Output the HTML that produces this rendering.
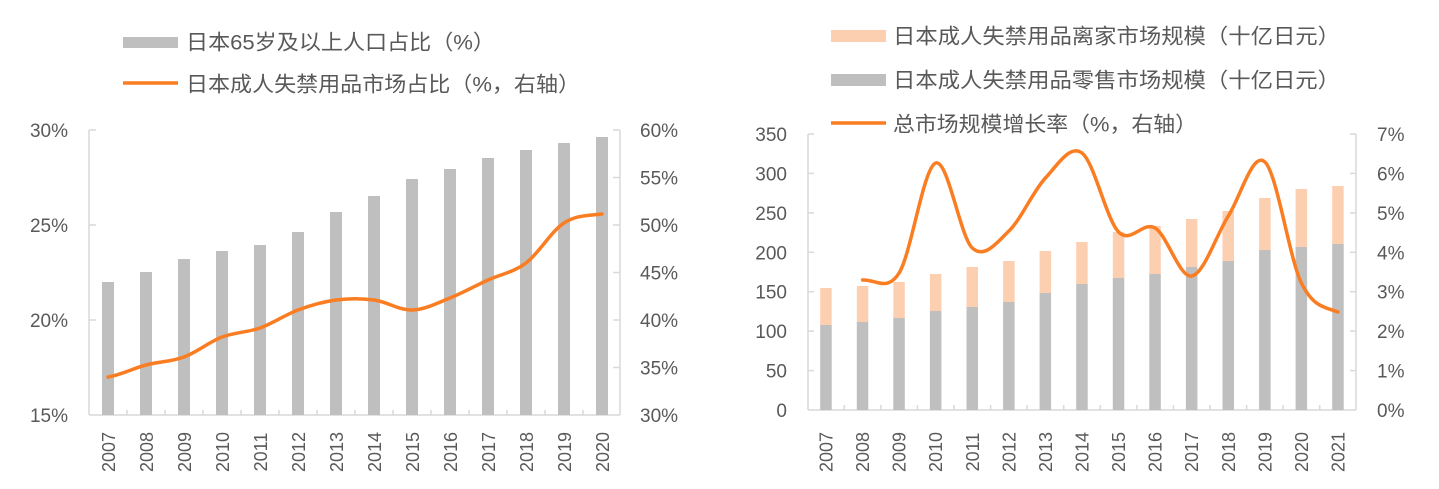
<!DOCTYPE html>
<html><head><meta charset="utf-8"><style>
html,body{margin:0;padding:0;background:#fff;}
svg{display:block;}
text{font-family:"Liberation Sans","Noto Sans CJK SC",sans-serif;fill:#595959;}
.t{font-size:19px;}
.yr{font-size:18px;}
.lg{font-size:21px;}
</style></head><body>
<svg width="1439" height="489" viewBox="0 0 1439 489" xmlns="http://www.w3.org/2000/svg">
<!-- LEFT CHART -->
<!-- legend -->
<rect x="123" y="37" width="55" height="11" fill="#bfbfbf"/>
<text class="lg" x="186" y="49.5" textLength="309" lengthAdjust="spacingAndGlyphs">日本65岁及以上人口占比（%）</text>
<line x1="123" y1="83" x2="178" y2="83" stroke="#fa7d22" stroke-width="3.5"/>
<text class="lg" x="186" y="91.5" textLength="394" lengthAdjust="spacingAndGlyphs">日本成人失禁用品市场占比（%，右轴）</text>

<!-- axes -->
<g stroke="#d9d9d9" stroke-width="1.5" fill="none">
<line x1="89" y1="130" x2="89" y2="415"/>
<line x1="620" y1="130" x2="620" y2="415"/>
<line x1="89" y1="415" x2="620" y2="415"/>
<line x1="89" y1="130" x2="96" y2="130"/><line x1="89" y1="225" x2="96" y2="225"/><line x1="89" y1="320" x2="96" y2="320"/>
<line x1="613" y1="130" x2="620" y2="130"/><line x1="613" y1="177.5" x2="620" y2="177.5"/><line x1="613" y1="225" x2="620" y2="225"/><line x1="613" y1="272.5" x2="620" y2="272.5"/><line x1="613" y1="320" x2="620" y2="320"/><line x1="613" y1="367.5" x2="620" y2="367.5"/>
<line x1="127" y1="410" x2="127" y2="415"/><line x1="165" y1="410" x2="165" y2="415"/><line x1="203" y1="410" x2="203" y2="415"/><line x1="241" y1="410" x2="241" y2="415"/><line x1="279" y1="410" x2="279" y2="415"/><line x1="317" y1="410" x2="317" y2="415"/><line x1="355" y1="410" x2="355" y2="415"/><line x1="393" y1="410" x2="393" y2="415"/><line x1="431" y1="410" x2="431" y2="415"/><line x1="469" y1="410" x2="469" y2="415"/><line x1="507" y1="410" x2="507" y2="415"/><line x1="545" y1="410" x2="545" y2="415"/><line x1="583" y1="410" x2="583" y2="415"/>
</g>
<!-- y labels -->
<g class="t" text-anchor="end">
<text x="68" y="137">30%</text><text x="68" y="232">25%</text><text x="68" y="327">20%</text><text x="68" y="422">15%</text>
</g>
<g class="t">
<text x="640" y="137">60%</text><text x="640" y="184.5">55%</text><text x="640" y="232">50%</text><text x="640" y="279.5">45%</text><text x="640" y="327">40%</text><text x="640" y="374.5">35%</text><text x="640" y="422">30%</text>
</g>
<!-- bars -->
<g fill="#bfbfbf">
<rect x="102" y="282" width="12" height="133"/>
<rect x="140" y="272" width="12" height="143"/>
<rect x="178" y="259" width="12" height="156"/>
<rect x="216" y="251" width="12" height="164"/>
<rect x="254" y="245" width="12" height="170"/>
<rect x="292" y="232" width="12" height="183"/>
<rect x="330" y="212" width="12" height="203"/>
<rect x="368" y="196" width="12" height="219"/>
<rect x="406" y="179" width="12" height="236"/>
<rect x="444" y="169" width="12" height="246"/>
<rect x="482" y="158" width="12" height="257"/>
<rect x="520" y="150" width="12" height="265"/>
<rect x="558" y="143" width="12" height="272"/>
<rect x="596" y="137" width="12" height="278"/>
</g>
<!-- line -->
<path d="M108,377 C120.7,375 133.3,368.3 146,365 C158.7,361.7 171.3,361.7 184,357 C196.7,352.3 209.3,341.8 222,337 C234.7,332.2 247.3,332.5 260,328 C272.7,323.5 285.3,314.7 298,310 C310.7,305.3 323.3,301.7 336,300 C348.7,298.3 361.3,298.3 374,300 C386.7,301.7 399.3,310.3 412,310 C424.7,309.7 437.3,303 450,298 C462.7,293 475.3,285.8 488,280 C500.7,274.2 513.3,272.5 526,263 C538.7,253.5 551.3,231.2 564,223 C576.7,214.8 589.3,215.5 602,214" fill="none" stroke="#fa7d22" stroke-width="3.5" stroke-linecap="round" stroke-linejoin="round"/>
<!-- year labels -->
<g class="yr" text-anchor="middle">
<text transform="translate(115,452) rotate(-90)">2007</text>
<text transform="translate(153,452) rotate(-90)">2008</text>
<text transform="translate(191,452) rotate(-90)">2009</text>
<text transform="translate(229,452) rotate(-90)">2010</text>
<text transform="translate(267,452) rotate(-90)">2011</text>
<text transform="translate(305,452) rotate(-90)">2012</text>
<text transform="translate(343,452) rotate(-90)">2013</text>
<text transform="translate(381,452) rotate(-90)">2014</text>
<text transform="translate(419,452) rotate(-90)">2015</text>
<text transform="translate(457,452) rotate(-90)">2016</text>
<text transform="translate(495,452) rotate(-90)">2017</text>
<text transform="translate(533,452) rotate(-90)">2018</text>
<text transform="translate(571,452) rotate(-90)">2019</text>
<text transform="translate(609,452) rotate(-90)">2020</text>
</g>

<!-- RIGHT CHART -->
<rect x="831" y="30" width="55" height="12" fill="#fdcfb1"/>
<text class="lg" x="893" y="43.5" textLength="447" lengthAdjust="spacingAndGlyphs">日本成人失禁用品离家市场规模（十亿日元）</text>
<rect x="831" y="74" width="55" height="12" fill="#bfbfbf"/>
<text class="lg" x="893" y="87.5" textLength="447" lengthAdjust="spacingAndGlyphs">日本成人失禁用品零售市场规模（十亿日元）</text>
<line x1="831" y1="123" x2="886" y2="123" stroke="#fa7d22" stroke-width="3.5"/>
<text class="lg" x="893" y="131.5" textLength="304" lengthAdjust="spacingAndGlyphs">总市场规模增长率（%，右轴）</text>

<g stroke="#d9d9d9" stroke-width="1.5" fill="none">
<line x1="808" y1="134" x2="808" y2="410"/>
<line x1="1356" y1="134" x2="1356" y2="410"/>
<line x1="808" y1="410" x2="1356" y2="410"/>
<line x1="808" y1="134" x2="814" y2="134"/><line x1="808" y1="173.4" x2="814" y2="173.4"/><line x1="808" y1="212.9" x2="814" y2="212.9"/><line x1="808" y1="252.3" x2="814" y2="252.3"/><line x1="808" y1="291.7" x2="814" y2="291.7"/><line x1="808" y1="331.1" x2="814" y2="331.1"/><line x1="808" y1="370.6" x2="814" y2="370.6"/>
<line x1="1350" y1="134" x2="1356" y2="134"/><line x1="1350" y1="173.4" x2="1356" y2="173.4"/><line x1="1350" y1="212.9" x2="1356" y2="212.9"/><line x1="1350" y1="252.3" x2="1356" y2="252.3"/><line x1="1350" y1="291.7" x2="1356" y2="291.7"/><line x1="1350" y1="331.1" x2="1356" y2="331.1"/><line x1="1350" y1="370.6" x2="1356" y2="370.6"/>
<line x1="844.3" y1="405" x2="844.3" y2="410"/><line x1="880.9" y1="405" x2="880.9" y2="410"/><line x1="917.4" y1="405" x2="917.4" y2="410"/><line x1="954" y1="405" x2="954" y2="410"/><line x1="990.6" y1="405" x2="990.6" y2="410"/><line x1="1027.1" y1="405" x2="1027.1" y2="410"/><line x1="1063.7" y1="405" x2="1063.7" y2="410"/><line x1="1100.3" y1="405" x2="1100.3" y2="410"/><line x1="1136.9" y1="405" x2="1136.9" y2="410"/><line x1="1173.4" y1="405" x2="1173.4" y2="410"/><line x1="1210" y1="405" x2="1210" y2="410"/><line x1="1246.6" y1="405" x2="1246.6" y2="410"/><line x1="1283.1" y1="405" x2="1283.1" y2="410"/><line x1="1319.7" y1="405" x2="1319.7" y2="410"/>
</g>
<g class="t" text-anchor="end">
<text x="787" y="141">350</text><text x="787" y="180.4">300</text><text x="787" y="219.9">250</text><text x="787" y="259.3">200</text><text x="787" y="298.7">150</text><text x="787" y="338.1">100</text><text x="787" y="377.6">50</text><text x="787" y="417">0</text>
</g>
<g class="t">
<text x="1377" y="141">7%</text><text x="1377" y="180.4">6%</text><text x="1377" y="219.9">5%</text><text x="1377" y="259.3">4%</text><text x="1377" y="298.7">3%</text><text x="1377" y="338.1">2%</text><text x="1377" y="377.6">1%</text><text x="1377" y="417">0%</text>
</g>
<!-- peach -->
<g fill="#fdcfb1">
<rect x="820.2" y="288" width="11.5" height="37"/>
<rect x="856.8" y="286" width="11.5" height="36"/>
<rect x="893.3" y="282" width="11.5" height="36"/>
<rect x="929.9" y="274" width="11.5" height="37"/>
<rect x="966.5" y="267" width="11.5" height="40"/>
<rect x="1003.1" y="261" width="11.5" height="41"/>
<rect x="1039.6" y="251" width="11.5" height="42"/>
<rect x="1076.2" y="242" width="11.5" height="42"/>
<rect x="1112.8" y="232" width="11.5" height="46"/>
<rect x="1149.3" y="226" width="11.5" height="48"/>
<rect x="1185.9" y="219" width="11.5" height="48"/>
<rect x="1222.5" y="211" width="11.5" height="50"/>
<rect x="1259.1" y="198" width="11.5" height="52"/>
<rect x="1295.6" y="189" width="11.5" height="58"/>
<rect x="1332.2" y="186" width="11.5" height="58"/>
</g>
<g fill="#bfbfbf">
<rect x="820.2" y="325" width="11.5" height="85"/>
<rect x="856.8" y="322" width="11.5" height="88"/>
<rect x="893.3" y="318" width="11.5" height="92"/>
<rect x="929.9" y="311" width="11.5" height="99"/>
<rect x="966.5" y="307" width="11.5" height="103"/>
<rect x="1003.1" y="302" width="11.5" height="108"/>
<rect x="1039.6" y="293" width="11.5" height="117"/>
<rect x="1076.2" y="284" width="11.5" height="126"/>
<rect x="1112.8" y="278" width="11.5" height="132"/>
<rect x="1149.3" y="274" width="11.5" height="136"/>
<rect x="1185.9" y="267" width="11.5" height="143"/>
<rect x="1222.5" y="261" width="11.5" height="149"/>
<rect x="1259.1" y="250" width="11.5" height="160"/>
<rect x="1295.6" y="247" width="11.5" height="163"/>
<rect x="1332.2" y="244" width="11.5" height="166"/>
</g>
<path d="M862.6,280 C874.8,278.8 886.9,292.5 899.1,273 C911.3,253.5 923.5,167.2 935.7,163 C947.9,158.8 960.1,236.7 972.3,248 C984.5,259.3 996.7,242.7 1008.9,231 C1021.1,219.3 1033.2,191 1045.4,178 C1057.6,165 1069.8,144 1082,153 C1094.2,162 1106.4,219.5 1118.6,232 C1130.8,244.5 1142.9,220.7 1155.1,228 C1167.3,235.3 1179.5,278 1191.7,276 C1203.9,274 1216.1,235.3 1228.3,216 C1240.5,197 1252.7,150.8 1264.9,162 C1277.1,173.2 1289.2,258 1301.4,283 C1313.6,308 1325.8,307.2 1338,312" fill="none" stroke="#fa7d22" stroke-width="3.5" stroke-linecap="round" stroke-linejoin="round"/>
<g class="yr" text-anchor="middle">
<text transform="translate(832.5,452) rotate(-90)">2007</text>
<text transform="translate(869.1,452) rotate(-90)">2008</text>
<text transform="translate(905.6,452) rotate(-90)">2009</text>
<text transform="translate(942.2,452) rotate(-90)">2010</text>
<text transform="translate(978.8,452) rotate(-90)">2011</text>
<text transform="translate(1015.4,452) rotate(-90)">2012</text>
<text transform="translate(1051.9,452) rotate(-90)">2013</text>
<text transform="translate(1088.5,452) rotate(-90)">2014</text>
<text transform="translate(1125.1,452) rotate(-90)">2015</text>
<text transform="translate(1161.6,452) rotate(-90)">2016</text>
<text transform="translate(1198.2,452) rotate(-90)">2017</text>
<text transform="translate(1234.8,452) rotate(-90)">2018</text>
<text transform="translate(1271.4,452) rotate(-90)">2019</text>
<text transform="translate(1307.9,452) rotate(-90)">2020</text>
<text transform="translate(1344.5,452) rotate(-90)">2021</text>
</g>
</svg>
</body></html>
